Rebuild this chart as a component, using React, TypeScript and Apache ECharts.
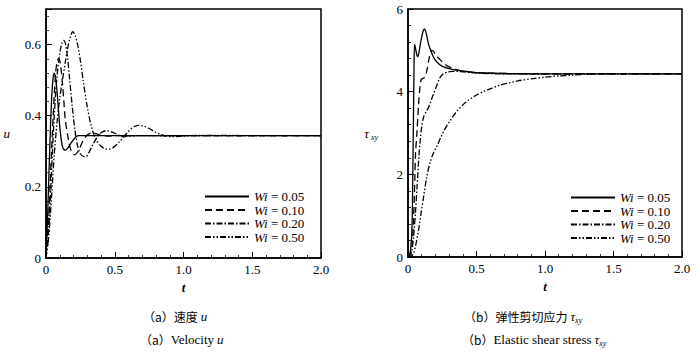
import React, { useEffect, useRef } from "react";
import * as echarts from "echarts";

const legendNames = ["Wi = 0.05", "Wi = 0.10", "Wi = 0.20", "Wi = 0.50"];
const xTicksFmt = (v: number) => (v === 0 ? "0" : v.toFixed(1));

// (a) velocity u
const tU05 = [0, 0.01, 0.02, 0.03, 0.04, 0.05, 0.06, 0.07, 0.08, 0.09, 0.1, 0.11, 0.12, 0.13, 0.14, 0.16, 0.18, 0.2, 0.22, 0.237, 0.3, 0.5, 1.0, 2.0];
const u05 = [0, 0.1, 0.22, 0.34, 0.44, 0.5, 0.52, 0.505, 0.47, 0.42, 0.37, 0.335, 0.313, 0.305, 0.303, 0.31, 0.322, 0.333, 0.341, 0.344, 0.344, 0.344, 0.344, 0.344];

const tU10 = [0, 0.02, 0.04, 0.06, 0.07, 0.08, 0.09, 0.1, 0.11, 0.12, 0.13, 0.14, 0.16, 0.18, 0.21, 0.24, 0.26, 0.28, 0.3, 0.335, 0.37, 0.4, 0.45, 0.5, 1.0, 2.0];
const u10 = [0, 0.12, 0.3, 0.46, 0.52, 0.55, 0.56, 0.555, 0.53, 0.49, 0.44, 0.39, 0.34, 0.305, 0.29, 0.305, 0.322, 0.337, 0.346, 0.352, 0.349, 0.345, 0.343, 0.344, 0.344, 0.344];

const tU20 = [0, 0.02, 0.04, 0.06, 0.08, 0.1, 0.115, 0.128, 0.14, 0.155, 0.17, 0.19, 0.21, 0.23, 0.25, 0.27, 0.29, 0.31, 0.34, 0.37, 0.4, 0.44, 0.48, 0.52, 0.56, 0.6, 0.65, 0.7, 1.0, 2.0];
const u20 = [0, 0.08, 0.24, 0.4, 0.51, 0.575, 0.603, 0.612, 0.605, 0.57, 0.51, 0.43, 0.36, 0.315, 0.293, 0.286, 0.285, 0.295, 0.318, 0.338, 0.352, 0.358, 0.354, 0.347, 0.341, 0.342, 0.344, 0.344, 0.344, 0.344];

const tU50 = [0, 0.02, 0.04, 0.06, 0.08, 0.1, 0.12, 0.14, 0.16, 0.18, 0.194, 0.21, 0.23, 0.25, 0.27, 0.3, 0.33, 0.36, 0.4, 0.43, 0.455, 0.49, 0.53, 0.57, 0.61, 0.64, 0.674, 0.71, 0.75, 0.79, 0.83, 0.87, 0.92, 0.97, 1.05, 1.2, 1.5, 2.0];
const u50 = [0, 0.06, 0.17, 0.29, 0.38, 0.45, 0.5, 0.55, 0.595, 0.625, 0.636, 0.628, 0.6, 0.555, 0.5, 0.425, 0.37, 0.335, 0.314, 0.307, 0.306, 0.311, 0.325, 0.343, 0.36, 0.369, 0.373, 0.371, 0.364, 0.355, 0.348, 0.343, 0.341, 0.342, 0.344, 0.345, 0.344, 0.344];

// (b) elastic shear stress tau_xy
const tS05 = [0, 0.01, 0.02, 0.03, 0.035, 0.04, 0.044, 0.048, 0.055, 0.065, 0.072, 0.08, 0.09, 0.1, 0.11, 0.121, 0.13, 0.14, 0.15, 0.162, 0.18, 0.2, 0.23, 0.26, 0.3, 0.35, 0.4, 0.45, 0.5, 0.6, 0.7, 1.0, 2.0];
const s05 = [0, 0.05, 0.2, 0.8, 2.0, 3.4, 4.6, 5.15, 5.05, 4.88, 4.85, 4.95, 5.15, 5.32, 5.46, 5.52, 5.45, 5.3, 5.15, 5.03, 4.88, 4.76, 4.66, 4.6, 4.56, 4.52, 4.5, 4.48, 4.46, 4.45, 4.44, 4.43, 4.43];

const tS10 = [0, 0.02, 0.03, 0.04, 0.05, 0.055, 0.065, 0.077, 0.087, 0.097, 0.11, 0.126, 0.14, 0.155, 0.17, 0.185, 0.2, 0.235, 0.28, 0.32, 0.36, 0.4, 0.5, 0.6, 0.7, 1.0, 2.0];
const s10 = [0, 0.1, 0.3, 0.85, 1.9, 2.5, 3.0, 3.68, 4.1, 4.3, 4.32, 4.37, 4.55, 4.82, 5.0, 4.98, 4.9, 4.77, 4.64, 4.57, 4.53, 4.5, 4.46, 4.45, 4.44, 4.43, 4.43];

const tS20 = [0, 0.02, 0.03, 0.041, 0.055, 0.066, 0.08, 0.09, 0.1, 0.115, 0.13, 0.15, 0.17, 0.187, 0.21, 0.235, 0.26, 0.284, 0.32, 0.36, 0.4, 0.5, 0.7, 2.0];
const s20 = [0, 0.05, 0.2, 0.5, 1.1, 1.7, 2.45, 2.85, 3.15, 3.4, 3.5, 3.62, 3.8, 3.95, 4.15, 4.35, 4.44, 4.47, 4.49, 4.49, 4.48, 4.45, 4.43, 4.43];

const tS50 = [0, 0.02, 0.04, 0.06, 0.077, 0.095, 0.114, 0.135, 0.162, 0.19, 0.211, 0.24, 0.27, 0.308, 0.35, 0.4, 0.43, 0.5, 0.55, 0.6, 0.672, 0.75, 0.8, 0.9, 1.0, 1.1, 1.2, 1.3, 1.4, 2.0];
const s50 = [0, 0.01, 0.08, 0.35, 0.65, 1.05, 1.46, 1.9, 2.3, 2.55, 2.68, 2.9, 3.1, 3.3, 3.5, 3.68, 3.77, 3.92, 4.0, 4.07, 4.16, 4.22, 4.26, 4.31, 4.35, 4.38, 4.4, 4.42, 4.43, 4.43];

const dashTypes: any[] = ["solid", [7, 4], [6, 2, 1.5, 2], [6, 2, 1.5, 2, 1.5, 2]];
const FONT = "Liberation Serif";
const CJK = "Noto Sans CJK SC";

const zip = (t: number[], v: number[]) => t.map((x, i) => [x, v[i]]);

export default function App() {
  const ref = useRef<HTMLDivElement>(null);
  useEffect(() => {
    const chart = echarts.init(ref.current!, null, { renderer: "svg" });
    const axisCommon = {
      type: "value",
      axisLine: { show: true, onZero: false, lineStyle: { color: "#000", width: 1.5 } },
      axisTick: { show: true, inside: true, length: 6, lineStyle: { color: "#000", width: 1 } },
      minorTick: { show: true, splitNumber: 5, length: 3, lineStyle: { color: "#000", width: 0.8 } },
      splitLine: { show: false },
      axisLabel: { color: "#000", fontFamily: FONT, fontSize: 13, margin: 5 },
    };
    const xAx = (gi: number) => ({
      ...axisCommon,
      gridIndex: gi,
      min: 0,
      max: 2,
      interval: 0.5,
      axisLabel: { ...axisCommon.axisLabel, formatter: xTicksFmt },
      name: "t",
      nameLocation: "middle",
      nameGap: 20,
      nameTextStyle: { fontFamily: FONT, fontStyle: "italic", fontWeight: "bold", fontSize: 13, color: "#000" },
    });
    const mkSeries = (gi: number, data: number[][][]) =>
      data.map((d, i) => ({
        type: "line",
        name: legendNames[i],
        xAxisIndex: gi,
        yAxisIndex: gi,
        data: d,
        symbol: "none",
        showSymbol: false,
        smooth: 0.3,
        lineStyle: { color: "#000", width: 1.3, type: dashTypes[i] },
        itemStyle: { color: "#000" },
      }));
    const legendCommon = {
      orient: "vertical",
      itemWidth: 44,
      itemHeight: 14,
      itemGap: 0.5,
      data: legendNames,
      selectedMode: false,
      itemStyle: { opacity: 0 },
      formatter: (n: string) => "{i|Wi} = " + n.split("= ")[1],
      textStyle: {
        fontFamily: FONT,
        fontSize: 13,
        fontWeight: "normal",
        color: "#000",
        rich: { i: { fontFamily: FONT, fontSize: 13, fontStyle: "italic", fontWeight: "normal", color: "#000" } },
      },
    };
    const cap = (x: number, y: number, rich: string) => ({
      type: "text",
      left: x,
      top: y,
      style: {
        text: rich,
        fill: "#000",
        fontFamily: FONT,
        fontSize: 12,
        rich: {
          c: { fontFamily: CJK, fontSize: 12, fill: "#000" },
          p: { fontFamily: CJK, fontSize: 12, fill: "#000" },
          e: { fontFamily: FONT, fontSize: 13, fill: "#000" },
          i: { fontFamily: FONT, fontSize: 13, fontStyle: "italic", fill: "#000" },
          s: { fontFamily: FONT, fontSize: 8, fontStyle: "italic", fill: "#000", verticalAlign: "bottom", lineHeight: 10 },
          t: { fontFamily: FONT, fontSize: 13, fontStyle: "italic", fill: "#000", lineHeight: 16 },
        },
      },
    });
    chart.setOption({
      animation: false,
      backgroundColor: "#fff",
      grid: [
        { left: 46, top: 9, width: 275, height: 249, show: true, borderColor: "#000", borderWidth: 1.5 },
        { left: 408, top: 9, width: 274, height: 248, show: true, borderColor: "#000", borderWidth: 1.5 },
      ],
      xAxis: [xAx(0), xAx(1)],
      yAxis: [
        {
          ...axisCommon,
          gridIndex: 0,
          min: 0,
          max: 0.7,
          interval: 0.2,
          axisLabel: { ...axisCommon.axisLabel, showMaxLabel: false, formatter: xTicksFmt },
          name: "u",
          nameLocation: "middle",
          nameRotate: 0,
          nameGap: 36,
          nameTextStyle: { fontFamily: FONT, fontStyle: "italic", fontSize: 13, color: "#000" },
        },
        {
          ...axisCommon,
          gridIndex: 1,
          min: 0,
          max: 6,
          interval: 2,
          name: "{t|τ}{s|xy}",
          nameLocation: "middle",
          nameRotate: 0,
          nameGap: 30,
          nameTextStyle: {
            color: "#000",
            rich: {
              t: { fontFamily: FONT, fontSize: 13, fontStyle: "italic", color: "#000", lineHeight: 16 },
              s: { fontFamily: FONT, fontSize: 8, fontStyle: "italic", color: "#000", verticalAlign: "bottom", lineHeight: 10, padding: [0, 0, 0, 2] },
            },
          },
        },
      ],
      legend: [
        { ...legendCommon, left: 199, top: 185 },
        { ...legendCommon, left: 565, top: 186 },
      ],
      series: [
        ...mkSeries(0, [zip(tU05, u05), zip(tU10, u10), zip(tU20, u20), zip(tU50, u50)]),
        ...mkSeries(1, [zip(tS05, s05), zip(tS10, s10), zip(tS20, s20), zip(tS50, s50)]),
      ],
      graphic: [
        cap(143, 310, "{p|（a）}{c|速度} {i|u}"),
        cap(140, 333, "{p|（a）}{e|Velocity} {i|u}"),
        cap(464, 310, "{p|（b）}{c|弹性剪切应力} {t|τ}{s|xy}"),
        cap(462, 333, "{p|（b）}{e|Elastic shear stress} {t|τ}{s|xy}"),
      ],
    });
    return () => chart.dispose();
  }, []);
  return <div ref={ref} style={{ position: "absolute", left: 0, top: 0, width: 700, height: 353 }} />;
}
